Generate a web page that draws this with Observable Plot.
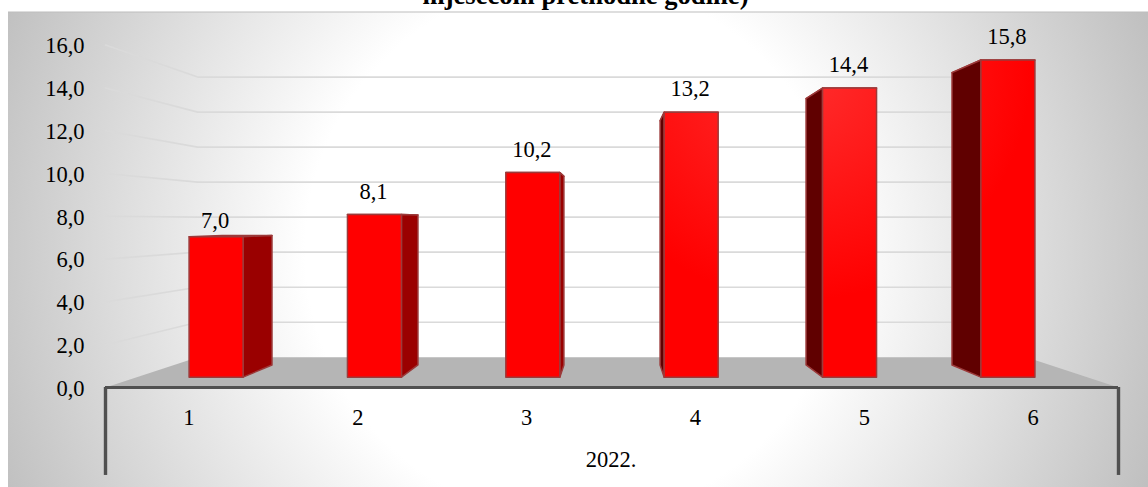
<!DOCTYPE html>
<html>
<head>
<meta charset="utf-8">
<script src="https://cdn.jsdelivr.net/npm/d3@7"></script>
<script src="https://cdn.jsdelivr.net/npm/@observablehq/plot@0.6"></script>
<style>
html,body{margin:0;padding:0;background:#fff;overflow:hidden}
svg{display:block}
</style>
</head>
<body>
<div id="chart"></div>
<script>
const months = ["1", "2", "3", "4", "5", "6"];
const values = [7.0, 8.1, 10.2, 13.2, 14.4, 15.8];
const yTicks = [0, 2, 4, 6, 8, 10, 12, 14, 16];
const yearLabel = "2022.";
const titleText = "mjesecom prethodne godine)";

// Perspective model: world x in category units, y in value units, plane = shrink factor
const vanishX = 3, vanishY = 7.78;
const plane = {front: 1, barFront: 0.938, barBack: 0.8645, wall: 0.818};
const barHalf = 0.1705;
const px = (x, s) => vanishX + (x - vanishX) * s;
const py = (v, s) => vanishY + (v - vanishY) * s;
const pt = (id, x, v, s) => ({id, x: px(x, s), y: py(v, s)});
const fmt = v => d3.format(".1f")(v).replace(".", ",");

const bars = months.map((m, i) => ({m, v: values[i], c: i + 0.5, l: i + 0.5 - barHalf, r: i + 0.5 + barHalf}));

const poly = (id, corners) => [...corners, corners[0]].map(([x, v, s]) => pt(id, x, v, s));
const fronts = bars.flatMap(b => poly(b.m, [[b.l, 0, plane.barFront], [b.r, 0, plane.barFront], [b.r, b.v, plane.barFront], [b.l, b.v, plane.barFront]]));
const tops = bars.flatMap(b => poly(b.m, [[b.l, b.v, plane.barFront], [b.r, b.v, plane.barFront], [b.r, b.v, plane.barBack], [b.l, b.v, plane.barBack]]));
const sideOf = (b, e) => poly(b.m, [[e, 0, plane.barFront], [e, 0, plane.barBack], [e, b.v, plane.barBack], [e, b.v, plane.barFront]]);
const rightSides = bars.filter(b => b.r < vanishX).flatMap(b => sideOf(b, b.r));
const leftSides = bars.filter(b => b.l > vanishX).flatMap(b => sideOf(b, b.l));
const floor = poly("floor", [[0, 0, plane.front], [6, 0, plane.front], [6, 0, plane.wall], [0, 0, plane.wall]]);
const wallGrid = yTicks.filter(t => t > 0).flatMap(t => [
  pt(t, 0, t, plane.front), pt(t, 0, t, plane.wall), pt(t, 6, t, plane.wall)
]);

const axisBottom = -4.11, monthRow = -1.4, yearRow = -3.4;

const panel = () => {
  const g = d3.create("svg:g");
  const defs = g.append("defs");
  const bg = defs.append("radialGradient").attr("id", "bg").attr("gradientUnits", "userSpaceOnUse")
    .attr("cx", 574).attr("cy", 250).attr("r", 640);
  bg.append("stop").attr("offset", 0.42).attr("stop-color", "#ffffff");
  bg.append("stop").attr("offset", 1).attr("stop-color", "#bcbcbc");
  const red = defs.append("radialGradient").attr("id", "red").attr("gradientUnits", "userSpaceOnUse")
    .attr("cx", 800).attr("cy", 70).attr("r", 230);
  red.append("stop").attr("offset", 0).attr("stop-color", "#ff2e2e");
  red.append("stop").attr("offset", 1).attr("stop-color", "#ff0000");
  g.append("rect").attr("x", 8).attr("y", 12).attr("width", 1140).attr("height", 475).attr("fill", "url(#bg)");
  g.append("line").attr("x1", 8).attr("x2", 1148).attr("y1", 12).attr("y2", 12).attr("stroke", "#bdbdbd").attr("stroke-width", 1.2);
  return g.node();
};

const serif = "'Liberation Serif','Times New Roman',serif";
const barStroke = {stroke: "#9c3a3a", strokeWidth: 1.5, strokeLinejoin: "round"};
const label = {fontSize: 22.5, fill: "#000", fontFamily: serif};

const chart = Plot.plot({
  width: 1148,
  height: 487,
  margin: 0,
  style: {background: "transparent", fontFamily: serif},
  x: {type: "linear", domain: [0, 6], range: [105, 1118], axis: null},
  y: {type: "linear", domain: [0, 16], range: [387, 44.6], axis: null},
  marks: [
    panel,
    Plot.text([titleText], {frameAnchor: "top", dx: 11, dy: -15, text: d => d, fontSize: 26.6, fontWeight: "bold", fill: "#000", fontFamily: serif, lineAnchor: "top"}),
    Plot.line(wallGrid, {x: "x", y: "y", z: "id", stroke: "#dadada", strokeWidth: 1.6}),
    Plot.line(floor, {x: "x", y: "y", z: "id", fill: "#b5b5b5", stroke: "none"}),
    Plot.line(tops, {x: "x", y: "y", z: "id", fill: "#f00000", ...barStroke}),
    Plot.line(rightSides, {x: "x", y: "y", z: "id", fill: "#9a0000", ...barStroke}),
    Plot.line(leftSides, {x: "x", y: "y", z: "id", fill: "#600000", ...barStroke}),
    Plot.line(fronts, {x: "x", y: "y", z: "id", fill: "url(#red)", ...barStroke}),
    Plot.ruleY([0], {x1: 0, x2: 6, stroke: "#505050", strokeWidth: 3.2}),
    Plot.ruleX([0, 6], {y1: 0, y2: axisBottom, stroke: "#505050", strokeWidth: 3.4}),
    Plot.text(yTicks, {x: 0, y: d => d, text: d => fmt(d), textAnchor: "end", dx: -21, dy: 1, ...label}),
    Plot.text(bars, {x: "c", y: monthRow, text: "m", dx: -1, ...label}),
    Plot.text([yearLabel], {x: 3, y: yearRow, text: d => d, dx: -1, ...label}),
    Plot.text(bars.slice(0, 1), {x: b => px(b.c, plane.barFront), y: b => py(b.v, plane.barFront), text: b => fmt(b.v), dy: -16, dx: -1, ...label}),
    Plot.text(bars.slice(1), {x: b => px(b.c, plane.barFront), y: b => py(b.v, plane.barFront), text: b => fmt(b.v), dy: -23, dx: -1, ...label})
  ]
});
document.getElementById("chart").appendChild(chart);
</script>
</body>
</html>
